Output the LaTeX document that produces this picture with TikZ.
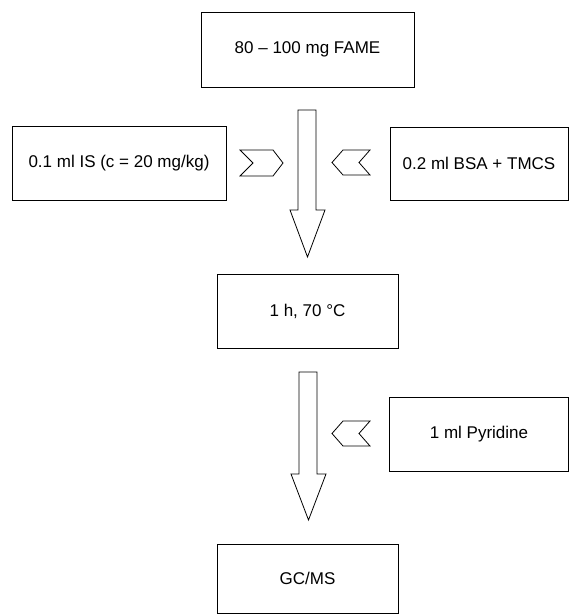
\documentclass[tikz,border=0pt]{standalone}
\usepackage{fontspec}
\setmainfont{Liberation Sans}
\usetikzlibrary{positioning}

\begin{document}
\begin{tikzpicture}
  [x=1pt,y=-1pt,line width=.8pt,
   every node/.style={draw,rectangle,inner sep=0pt,font=\fontsize{17}{20}\selectfont}]
  \useasboundingbox (0,0) rectangle (570,615);
  \node[minimum width=213pt,minimum height=75pt] (fame) at (307.5,49.5) {80 -- 100 mg FAME};
  \node[minimum width=214pt,minimum height=74pt] (is) at (119,163) {0.1 ml IS (c = 20 mg/kg)};
  \node[minimum width=178pt,minimum height=73pt] (bsa) at (479,163.5) {0.2 ml BSA + TMCS};
  \node[minimum width=181pt,minimum height=74pt] (heat) at (307.5,311) {1 h, 70 °C};
  \node[minimum width=179pt,minimum height=74pt] (pyr) at (479,434) {1 ml Pyridine};
  \node[minimum width=181pt,minimum height=69pt] (gcms) at (307.5,578.5) {GC/MS};

  % block arrows
  \draw (298,110) -- (316,110) -- (316,210) -- (325,210) -- (307.5,257) -- (290,210) -- (298,210) -- cycle;
  \draw (299,372) -- (317,372) -- (317,474) -- (326,474) -- (308.5,520) -- (291,474) -- (299,474) -- cycle;

  % chevrons
  \draw (240,150) -- ++(33,0) -- ++(10,13) -- ++(-10,13) -- ++(-33,0) -- ++(13,-13) -- cycle;
  \foreach \y in {150,421}
    \draw (370,\y) -- ++(-27,0) -- ++(-11,12.5) -- ++(11,12.5) -- ++(27,0) -- ++(-11,-12.5) -- cycle;
\end{tikzpicture}
\end{document}
